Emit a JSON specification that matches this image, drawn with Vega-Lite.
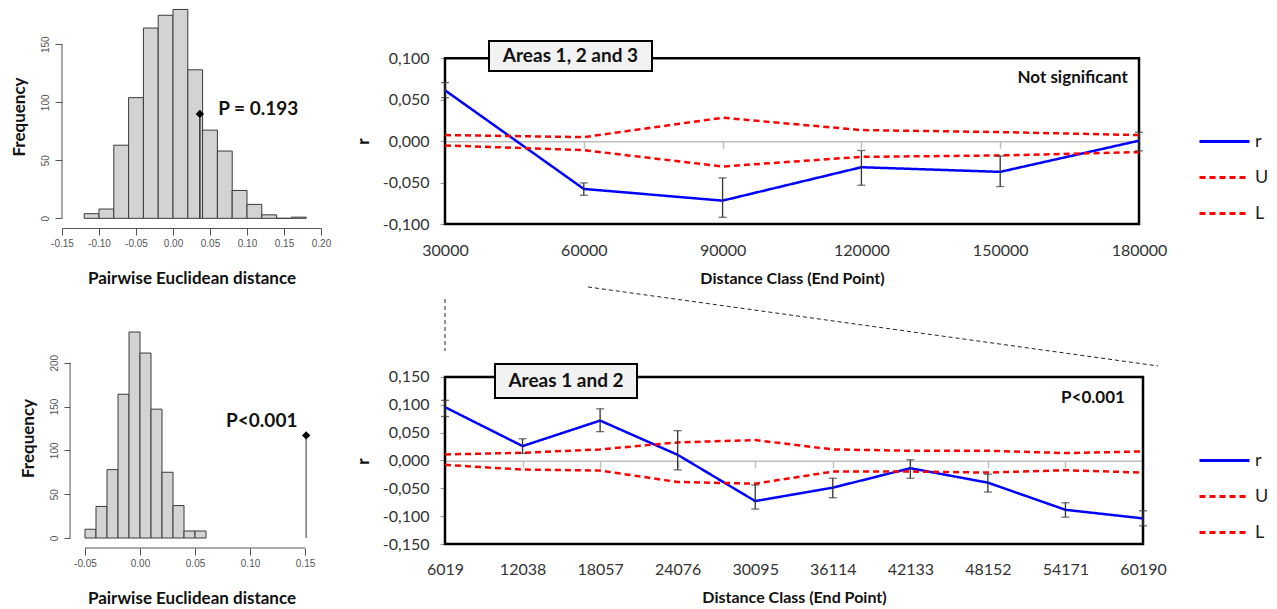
{
  "$schema": "https://vega.github.io/schema/vega-lite/v6.json",
  "background": "white",
  "padding": {"left": 10, "top": 8, "right": 0, "bottom": 0},
  "autosize": {"type": "pad"},
  "columns": 2,
  "bounds": "flush",
  "align": "each",
  "spacing": {"row": 108, "column": 124},
  "resolve": {"scale": {"x": "independent", "y": "independent", "color": "independent", "strokeDash": "independent"}},
  "config": {"view": {"stroke": null}, "font": "Lato", "axis": {"grid": false, "labelOverlap": false, "tickCount": 30}},
  "datasets": {
    "hist1": [
      {"b0": -0.12, "b1": -0.10, "n": 4}, {"b0": -0.10, "b1": -0.08, "n": 8}, {"b0": -0.08, "b1": -0.06, "n": 63},
      {"b0": -0.06, "b1": -0.04, "n": 104}, {"b0": -0.04, "b1": -0.02, "n": 164}, {"b0": -0.02, "b1": 0.0, "n": 175},
      {"b0": 0.0, "b1": 0.02, "n": 180}, {"b0": 0.02, "b1": 0.04, "n": 128}, {"b0": 0.04, "b1": 0.06, "n": 76},
      {"b0": 0.06, "b1": 0.08, "n": 58}, {"b0": 0.08, "b1": 0.10, "n": 24}, {"b0": 0.10, "b1": 0.12, "n": 12},
      {"b0": 0.12, "b1": 0.14, "n": 3}, {"b0": 0.14, "b1": 0.16, "n": 0}, {"b0": 0.16, "b1": 0.18, "n": 1}
    ],
    "hist2": [
      {"b0": -0.05, "b1": -0.04, "n": 10}, {"b0": -0.04, "b1": -0.03, "n": 36}, {"b0": -0.03, "b1": -0.02, "n": 78},
      {"b0": -0.02, "b1": -0.01, "n": 164}, {"b0": -0.01, "b1": 0.0, "n": 235}, {"b0": 0.0, "b1": 0.01, "n": 211},
      {"b0": 0.01, "b1": 0.02, "n": 147}, {"b0": 0.02, "b1": 0.03, "n": 75}, {"b0": 0.03, "b1": 0.04, "n": 37},
      {"b0": 0.04, "b1": 0.05, "n": 8}, {"b0": 0.05, "b1": 0.06, "n": 8}
    ],
    "top_lines": [
      {"d": 30000, "s": "r", "v": 0.0613}, {"d": 60000, "s": "r", "v": -0.0577}, {"d": 90000, "s": "r", "v": -0.0718},
      {"d": 120000, "s": "r", "v": -0.0315}, {"d": 150000, "s": "r", "v": -0.0371}, {"d": 180000, "s": "r", "v": 0.0005},
      {"d": 30000, "s": "U", "v": 0.0073}, {"d": 60000, "s": "U", "v": 0.0048}, {"d": 90000, "s": "U", "v": 0.0282},
      {"d": 120000, "s": "U", "v": 0.0133}, {"d": 150000, "s": "U", "v": 0.0109}, {"d": 180000, "s": "U", "v": 0.0073},
      {"d": 30000, "s": "L", "v": -0.0052}, {"d": 60000, "s": "L", "v": -0.0109}, {"d": 90000, "s": "L", "v": -0.0306},
      {"d": 120000, "s": "L", "v": -0.019}, {"d": 150000, "s": "L", "v": -0.0173}, {"d": 180000, "s": "L", "v": -0.0133}
    ],
    "top_err": [
      {"d": 30000, "lo": 0.0524, "hi": 0.0706}, {"d": 60000, "lo": -0.0653, "hi": -0.0504},
      {"d": 90000, "lo": -0.0919, "hi": -0.0444}, {"d": 120000, "lo": -0.0532, "hi": -0.0113},
      {"d": 150000, "lo": -0.0548, "hi": -0.018}, {"d": 180000, "lo": -0.0117, "hi": 0.0107}
    ],
    "bot_lines": [
      {"d": 6019, "s": "r", "v": 0.0958}, {"d": 12038, "s": "r", "v": 0.0259}, {"d": 18057, "s": "r", "v": 0.0717},
      {"d": 24076, "s": "r", "v": 0.0102}, {"d": 30095, "s": "r", "v": -0.0729}, {"d": 36114, "s": "r", "v": -0.0488},
      {"d": 42133, "s": "r", "v": -0.0139}, {"d": 48152, "s": "r", "v": -0.0398}, {"d": 54171, "s": "r", "v": -0.0886},
      {"d": 60190, "s": "r", "v": -0.104},
      {"d": 6019, "s": "U", "v": 0.0108}, {"d": 12038, "s": "U", "v": 0.0139}, {"d": 18057, "s": "U", "v": 0.0199},
      {"d": 24076, "s": "U", "v": 0.0325}, {"d": 30095, "s": "U", "v": 0.0367}, {"d": 36114, "s": "U", "v": 0.0199},
      {"d": 42133, "s": "U", "v": 0.0175}, {"d": 48152, "s": "U", "v": 0.0175}, {"d": 54171, "s": "U", "v": 0.0133},
      {"d": 60190, "s": "U", "v": 0.0163},
      {"d": 6019, "s": "L", "v": -0.0078}, {"d": 12038, "s": "L", "v": -0.0163}, {"d": 18057, "s": "L", "v": -0.0181},
      {"d": 24076, "s": "L", "v": -0.0386}, {"d": 30095, "s": "L", "v": -0.0416}, {"d": 36114, "s": "L", "v": -0.0199},
      {"d": 42133, "s": "L", "v": -0.0199}, {"d": 48152, "s": "L", "v": -0.0217}, {"d": 54171, "s": "L", "v": -0.0175},
      {"d": 60190, "s": "L", "v": -0.0217}
    ],
    "bot_err": [
      {"d": 6019, "lo": 0.079, "hi": 0.108}, {"d": 12038, "lo": 0.0127, "hi": 0.039},
      {"d": 18057, "lo": 0.0518, "hi": 0.0928}, {"d": 24076, "lo": -0.0169, "hi": 0.0536},
      {"d": 30095, "lo": -0.0873, "hi": -0.044}, {"d": 36114, "lo": -0.0669, "hi": -0.0319},
      {"d": 42133, "lo": -0.0319, "hi": 0.0012}, {"d": 48152, "lo": -0.0566, "hi": -0.0247},
      {"d": 54171, "lo": -0.1018, "hi": -0.0759}, {"d": 60190, "lo": -0.1173, "hi": -0.0904}
    ]
  },
  "concat": [
    {
      "width": 259, "height": 215,
      "layer": [
        {
          "data": {"name": "hist1"},
          "mark": {"type": "bar", "fill": "#d3d3d3", "stroke": "#3a3a3a", "strokeWidth": 1},
          "encoding": {
            "x": {"field": "b0", "type": "quantitative", "scale": {"domain": [-0.15, 0.2], "nice": false, "zero": false},
              "axis": {"values": [-0.15, -0.1, -0.05, 0, 0.05, 0.1, 0.15, 0.2], "tickCount": 30, "labelExpr": "replace(format(datum.value, '.2f'), '\u2212', '-')", "labelOverlap": false, "offset": 4, "domainColor": "#555", "tickColor": "#555", "tickSize": 7, "labelColor": "#555", "labelFont": "Liberation Sans", "labelFontSize": 10, "labelPadding": 3, "labelFlush": false, "title": "Pairwise Euclidean distance", "titleFont": "Lato", "titleFontSize": 17, "titleFontWeight": "bold", "titleColor": "#111", "titlePadding": 22}},
            "x2": {"field": "b1"},
            "y": {"field": "n", "type": "quantitative", "scale": {"domain": [-4.9, 180.4], "nice": false, "zero": false},
              "axis": {"values": [0, 50, 100, 150], "tickCount": 30, "labelOverlap": false, "domain": false, "tickColor": "#555", "tickSize": 7, "labelAngle": 270, "labelAlign": "center", "labelBaseline": "bottom", "labelPadding": 5, "labelColor": "#555", "labelFont": "Liberation Sans", "labelFontSize": 10, "title": "Frequency", "titleFont": "Lato", "titleFontSize": 17, "titleFontWeight": "bold", "titleColor": "#111", "titlePadding": 12}},
            "y2": {"datum": 0}
          }
        },
        {
          "data": {"values": [{"x": -0.15, "y0": 0, "y1": 150}]},
          "mark": {"type": "rule", "color": "#555", "strokeWidth": 1},
          "encoding": {"x": {"field": "x", "type": "quantitative"}, "y": {"field": "y0", "type": "quantitative"}, "y2": {"field": "y1"}}
        },
        {
          "data": {"values": [{"x": 0.0363, "y0": 0, "y1": 90}]},
          "mark": {"type": "rule", "color": "#333", "strokeWidth": 1.5},
          "encoding": {"x": {"field": "x", "type": "quantitative"}, "y": {"field": "y0", "type": "quantitative"}, "y2": {"field": "y1"}}
        },
        {
          "data": {"values": [{"x": 0.0363, "y": 90}]},
          "mark": {"type": "point", "shape": "diamond", "filled": true, "color": "#000", "size": 70, "opacity": 1},
          "encoding": {"x": {"field": "x", "type": "quantitative"}, "y": {"field": "y", "type": "quantitative"}}
        },
        {
          "data": {"values": [{"x": 0.0611, "y": 94, "t": "P = 0.193"}]},
          "mark": {"type": "text", "align": "left", "baseline": "middle", "font": "Lato", "fontSize": 19, "fontWeight": "bold", "color": "#111"},
          "encoding": {"x": {"field": "x", "type": "quantitative"}, "y": {"field": "y", "type": "quantitative"}, "text": {"field": "t"}}
        }
      ]
    },
    {
      "width": 694, "height": 215,
      "layer": [
        {
          "data": {"values": [{"x0": 30000, "x1": 180000, "y0": -0.1, "y1": 0.1}]},
          "mark": {"type": "rect", "fill": "white", "fillOpacity": 0, "stroke": "#000", "strokeWidth": 2.5},
          "encoding": {
            "x": {"field": "x0", "type": "quantitative", "scale": {"domain": [30000, 180000], "nice": false, "zero": false},
              "axis": {"values": [30000, 60000, 90000, 120000, 150000, 180000], "tickCount": 30, "format": "d", "labelOverlap": false, "offset": -82.7, "domainColor": "#bfbfbf", "domainWidth": 1.5, "tickColor": "#bfbfbf", "tickWidth": 1.5, "tickSize": 7, "labelFont": "Lato", "labelFontSize": 16, "labelColor": "#333", "labelPadding": 94, "labelFlush": false, "title": "Distance Class (End Point)", "titleFont": "Lato", "titleFontSize": 16, "titleFontWeight": "bold", "titleColor": "#111", "titlePadding": 12}},
            "x2": {"field": "x1"},
            "y": {"field": "y0", "type": "quantitative", "title": "r", "scale": {"domain": [-0.1, 0.1594], "nice": false, "zero": false},
              "axis": {"values": [-0.1, -0.05, 0, 0.05, 0.1], "tickCount": 30, "labelExpr": "replace(replace(format(datum.value, '.3f'), '.', ','), '\u2212', '-')", "labelOverlap": false, "domain": false, "tickColor": "#999", "tickSize": 5, "labelFont": "Lato", "labelFontSize": 16, "labelColor": "#333", "labelPadding": 11, "title": "r", "titleFont": "Lato", "titleFontSize": 17, "titleFontWeight": "bold", "titleColor": "#111", "titlePadding": 10, "titleY": 132}},
            "y2": {"field": "y1"}
          }
        },
        {
          "data": {"name": "top_lines"},
          "mark": {"type": "line", "strokeWidth": 2.5},
          "encoding": {
            "x": {"field": "d", "type": "quantitative"},
            "y": {"field": "v", "type": "quantitative", "title": "r"},
            "color": {"field": "s", "type": "nominal", "scale": {"domain": ["r", "U", "L"], "range": ["#0000ff", "#ff0000", "#ff0000"]},
              "legend": {"title": null, "orient": "none", "legendX": 753, "legendY": 106, "symbolType": "stroke", "symbolSize": 2500, "symbolStrokeWidth": 3, "labelFont": "Lato", "labelFontSize": 18, "labelColor": "#222", "rowPadding": -19.5, "padding": 0, "labelOffset": 4}},
            "strokeDash": {"field": "s", "type": "nominal", "scale": {"domain": ["r", "U", "L"], "range": [[1, 0], [6, 4], [6, 4]]},
              "legend": {"title": null, "orient": "none", "legendX": 753, "legendY": 106, "symbolType": "stroke", "symbolSize": 2500, "symbolStrokeWidth": 3, "labelFont": "Lato", "labelFontSize": 18, "labelColor": "#222", "rowPadding": -19.5, "padding": 0, "labelOffset": 4}}
          }
        },
        {
          "data": {"name": "top_err"},
          "mark": {"type": "errorbar", "ticks": {"size": 8, "color": "#333"}, "rule": {"color": "#333", "strokeWidth": 1.3}, "thickness": 1.3},
          "encoding": {"x": {"field": "d", "type": "quantitative"}, "y": {"field": "lo", "type": "quantitative", "title": "r"}, "y2": {"field": "hi"}}
        },
        {
          "data": {"values": [{"x0": 39510, "x1": 74740, "y0": 0.0847, "y1": 0.1208}]},
          "mark": {"type": "rect", "fill": "#f2f2f2", "stroke": "#000", "strokeWidth": 2},
          "encoding": {"x": {"field": "x0", "type": "quantitative"}, "x2": {"field": "x1"}, "y": {"field": "y0", "type": "quantitative", "title": "r"}, "y2": {"field": "y1"}}
        },
        {
          "data": {"values": [{"x": 57125, "y": 0.1028, "t": "Areas 1, 2 and 3"}]},
          "mark": {"type": "text", "align": "center", "baseline": "middle", "font": "Lato", "fontSize": 19, "fontWeight": "bold", "color": "#111"},
          "encoding": {"x": {"field": "x", "type": "quantitative"}, "y": {"field": "y", "type": "quantitative", "title": "r"}, "text": {"field": "t"}}
        },
        {
          "data": {"values": [{"x": 177600, "y": 0.0763, "t": "Not significant"}]},
          "mark": {"type": "text", "align": "right", "baseline": "middle", "font": "Lato", "fontSize": 17, "fontWeight": "bold", "color": "#111"},
          "encoding": {"x": {"field": "x", "type": "quantitative"}, "y": {"field": "y", "type": "quantitative", "title": "r"}, "text": {"field": "t"}}
        }
      ]
    },
    {
      "width": 259, "height": 212,
      "layer": [
        {
          "data": {"name": "hist2"},
          "mark": {"type": "bar", "fill": "#d3d3d3", "stroke": "#3a3a3a", "strokeWidth": 1},
          "encoding": {
            "x": {"field": "b0", "type": "quantitative", "scale": {"domain": [-0.0709, 0.1645], "nice": false, "zero": false},
              "axis": {"values": [-0.05, 0, 0.05, 0.1, 0.15], "tickCount": 30, "labelExpr": "replace(format(datum.value, '.2f'), '\u2212', '-')", "labelOverlap": false, "offset": 4, "domain": false, "tickColor": "#555", "tickSize": 7, "labelColor": "#555", "labelFont": "Liberation Sans", "labelFontSize": 10, "labelPadding": 3, "labelFlush": false, "title": "Pairwise Euclidean distance", "titleFont": "Lato", "titleFontSize": 17, "titleFontWeight": "bold", "titleColor": "#111", "titlePadding": 22}},
            "x2": {"field": "b1"},
            "y": {"field": "n", "type": "quantitative", "scale": {"domain": [-6.84, 235], "nice": false, "zero": false},
              "axis": {"values": [0, 50, 100, 150, 200], "tickCount": 30, "labelOverlap": false, "domain": false, "offset": -8, "tickColor": "#555", "tickSize": 6, "labelAngle": 270, "labelAlign": "center", "labelBaseline": "bottom", "labelPadding": 5, "labelColor": "#555", "labelFont": "Liberation Sans", "labelFontSize": 10, "title": "Frequency", "titleFont": "Lato", "titleFontSize": 17, "titleFontWeight": "bold", "titleColor": "#111", "titlePadding": 12}},
            "y2": {"datum": 0}
          }
        },
        {
          "data": {"values": [{"x": -0.0636, "y0": 0, "y1": 200}]},
          "mark": {"type": "rule", "color": "#555", "strokeWidth": 1},
          "encoding": {"x": {"field": "x", "type": "quantitative"}, "y": {"field": "y0", "type": "quantitative"}, "y2": {"field": "y1"}}
        },
        {
          "data": {"values": [{"x0": -0.05, "x1": 0.15, "y": -11.4}]},
          "mark": {"type": "rule", "color": "#555", "strokeWidth": 1},
          "encoding": {"x": {"field": "x0", "type": "quantitative"}, "x2": {"field": "x1"}, "y": {"field": "y", "type": "quantitative"}}
        },
        {
          "data": {"values": [{"x": 0.151, "y0": 0, "y1": 117}]},
          "mark": {"type": "rule", "color": "#777", "strokeWidth": 1.5},
          "encoding": {"x": {"field": "x", "type": "quantitative"}, "y": {"field": "y0", "type": "quantitative"}, "y2": {"field": "y1"}}
        },
        {
          "data": {"values": [{"x": 0.151, "y": 117}]},
          "mark": {"type": "point", "shape": "diamond", "filled": true, "color": "#000", "size": 70, "opacity": 1},
          "encoding": {"x": {"field": "x", "type": "quantitative"}, "y": {"field": "y", "type": "quantitative"}}
        },
        {
          "data": {"values": [{"x": 0.0782, "y": 133.5, "t": "P<0.001"}]},
          "mark": {"type": "text", "align": "left", "baseline": "middle", "font": "Lato", "fontSize": 19, "fontWeight": "bold", "color": "#111"},
          "encoding": {"x": {"field": "x", "type": "quantitative"}, "y": {"field": "y", "type": "quantitative"}, "text": {"field": "t"}}
        }
      ]
    },
    {
      "width": 698, "height": 212,
      "layer": [
        {
          "data": {"values": [{"x0": 6019, "x1": 60190, "y0": -0.15, "y1": 0.15}]},
          "mark": {"type": "rect", "fill": "white", "fillOpacity": 0, "stroke": "#000", "strokeWidth": 2.5},
          "encoding": {
            "x": {"field": "x0", "type": "quantitative", "scale": {"domain": [6019, 60190], "nice": false, "zero": false},
              "axis": {"values": [6019, 12038, 18057, 24076, 30095, 36114, 42133, 48152, 54171, 60190], "tickCount": 30, "format": "d", "labelOverlap": false, "offset": -83.3, "domainColor": "#bfbfbf", "domainWidth": 1.5, "tickColor": "#bfbfbf", "tickWidth": 1.5, "tickSize": 7, "labelFont": "Lato", "labelFontSize": 16, "labelColor": "#333", "labelPadding": 94, "labelFlush": false, "title": "Distance Class (End Point)", "titleFont": "Lato", "titleFontSize": 16, "titleFontWeight": "bold", "titleColor": "#111", "titlePadding": 12}},
            "x2": {"field": "x1"},
            "y": {"field": "y0", "type": "quantitative", "title": "r", "scale": {"domain": [-0.15, 0.2308], "nice": false, "zero": false},
              "axis": {"values": [-0.15, -0.1, -0.05, 0, 0.05, 0.1, 0.15], "tickCount": 30, "labelExpr": "replace(replace(format(datum.value, '.3f'), '.', ','), '\u2212', '-')", "labelOverlap": false, "domain": false, "tickColor": "#999", "tickSize": 5, "labelFont": "Lato", "labelFontSize": 16, "labelColor": "#333", "labelPadding": 11, "title": "r", "titleFont": "Lato", "titleFontSize": 17, "titleFontWeight": "bold", "titleColor": "#111", "titlePadding": 10, "titleY": 129}},
            "y2": {"field": "y1"}
          }
        },
        {
          "data": {"values": [{"x0": 6019, "x1": 6019, "y0": 0.2901, "y1": 0.1967}, {"x0": 17117, "x1": 61354, "y0": 0.3117, "y1": 0.1698}]},
          "mark": {"type": "rule", "color": "#222", "strokeWidth": 1, "strokeDash": [4, 3]},
          "encoding": {"x": {"field": "x0", "type": "quantitative"}, "x2": {"field": "x1"}, "y": {"field": "y0", "type": "quantitative", "title": "r"}, "y2": {"field": "y1"}}
        },
        {
          "data": {"name": "bot_lines"},
          "mark": {"type": "line", "strokeWidth": 2.5},
          "encoding": {
            "x": {"field": "d", "type": "quantitative"},
            "y": {"field": "v", "type": "quantitative", "title": "r"},
            "color": {"field": "s", "type": "nominal", "scale": {"domain": ["r", "U", "L"], "range": ["#0000ff", "#ff0000", "#ff0000"]},
              "legend": {"title": null, "orient": "none", "legendX": 753, "legendY": 102, "symbolType": "stroke", "symbolSize": 2500, "symbolStrokeWidth": 3, "labelFont": "Lato", "labelFontSize": 18, "labelColor": "#222", "rowPadding": -19.5, "padding": 0, "labelOffset": 4}},
            "strokeDash": {"field": "s", "type": "nominal", "scale": {"domain": ["r", "U", "L"], "range": [[1, 0], [6, 4], [6, 4]]},
              "legend": {"title": null, "orient": "none", "legendX": 753, "legendY": 102, "symbolType": "stroke", "symbolSize": 2500, "symbolStrokeWidth": 3, "labelFont": "Lato", "labelFontSize": 18, "labelColor": "#222", "rowPadding": -19.5, "padding": 0, "labelOffset": 4}}
          }
        },
        {
          "data": {"name": "bot_err"},
          "mark": {"type": "errorbar", "ticks": {"size": 8, "color": "#333"}, "rule": {"color": "#333", "strokeWidth": 1.3}, "thickness": 1.3},
          "encoding": {"x": {"field": "d", "type": "quantitative"}, "y": {"field": "lo", "type": "quantitative", "title": "r"}, "y2": {"field": "hi"}}
        },
        {
          "data": {"values": [{"x0": 9899, "x1": 20920, "y0": 0.1123, "y1": 0.1734}]},
          "mark": {"type": "rect", "fill": "#f2f2f2", "stroke": "#000", "strokeWidth": 2},
          "encoding": {"x": {"field": "x0", "type": "quantitative"}, "x2": {"field": "x1"}, "y": {"field": "y0", "type": "quantitative", "title": "r"}, "y2": {"field": "y1"}}
        },
        {
          "data": {"values": [{"x": 15410, "y": 0.1429, "t": "Areas 1 and 2"}]},
          "mark": {"type": "text", "align": "center", "baseline": "middle", "font": "Lato", "fontSize": 19, "fontWeight": "bold", "color": "#111"},
          "encoding": {"x": {"field": "x", "type": "quantitative"}, "y": {"field": "y", "type": "quantitative", "title": "r"}, "text": {"field": "t"}}
        },
        {
          "data": {"values": [{"x": 58790, "y": 0.1123, "t": "P<0.001"}]},
          "mark": {"type": "text", "align": "right", "baseline": "middle", "font": "Lato", "fontSize": 17, "fontWeight": "bold", "color": "#111"},
          "encoding": {"x": {"field": "x", "type": "quantitative"}, "y": {"field": "y", "type": "quantitative", "title": "r"}, "text": {"field": "t"}}
        }
      ]
    }
  ]
}
